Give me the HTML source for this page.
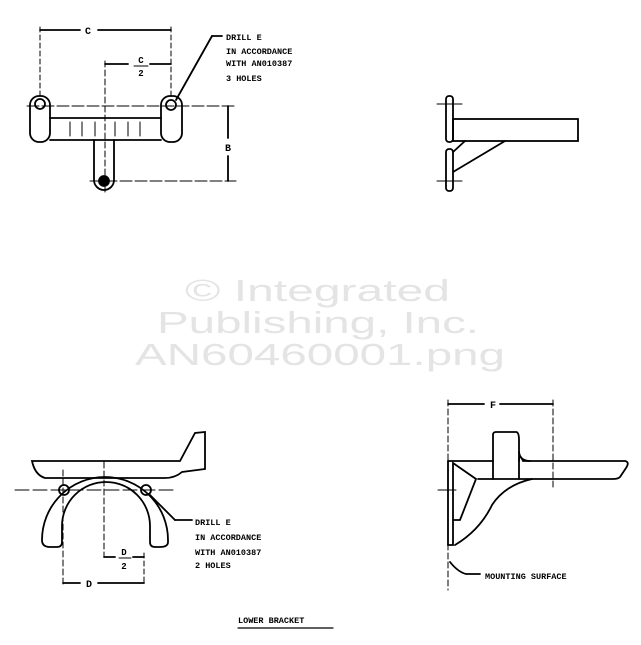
<!DOCTYPE html>
<html><head><style>
html,body{margin:0;padding:0;background:#fff;}
svg{display:block;}
text{font-family:"Liberation Mono",monospace;font-weight:bold;fill:#000;}
.wm{font-family:"Liberation Sans",sans-serif;font-weight:normal;fill:#e4e4e4;font-size:31px;stroke:none;}
</style></head><body>
<svg width="641" height="645" viewBox="0 0 641 645" xmlns="http://www.w3.org/2000/svg">
<!-- watermark -->
<text class="wm" x="185" y="301" textLength="265" lengthAdjust="spacingAndGlyphs">© Integrated</text>
<text class="wm" x="157" y="333" textLength="322" lengthAdjust="spacingAndGlyphs">Publishing, Inc.</text>
<text class="wm" x="135" y="365" textLength="370" lengthAdjust="spacingAndGlyphs">AN60460001.png</text>

<g fill="none" stroke="#000" stroke-width="1.8" stroke-linecap="round">
<!-- TOP LEFT -->
<line x1="40" y1="30" x2="80" y2="30"/><line x1="98" y1="30" x2="171" y2="30"/>
<line x1="40" y1="27" x2="40" y2="98" stroke-dasharray="5,3" stroke-width="1"/>
<line x1="171" y1="27" x2="171" y2="95" stroke-dasharray="5,3" stroke-width="1"/>
<line x1="105" y1="64" x2="128" y2="64"/><line x1="150" y1="64" x2="171" y2="64"/>
<line x1="105" y1="61" x2="105" y2="192" stroke-dasharray="6,3" stroke-width="1"/>
<line x1="134" y1="66" x2="148" y2="66" stroke-width="1"/>
<line x1="176" y1="100" x2="212" y2="36"/><line x1="212" y1="36" x2="222" y2="36"/>
<line x1="27" y1="106" x2="236" y2="106" stroke-dasharray="12,3" stroke-width="1"/>
<rect x="30" y="96" width="20" height="46" rx="9"/>
<rect x="161" y="96" width="21" height="46" rx="9"/>
<circle cx="40" cy="104" r="5"/><circle cx="171" cy="105" r="5"/>
<line x1="50" y1="118" x2="161" y2="118"/><line x1="50" y1="140" x2="161" y2="140"/>
<path d="M94 140 V180 A10 10 0 0 0 114 180 V140" />
<circle cx="104" cy="181" r="5" fill="#000"/>
<line x1="90" y1="181" x2="236" y2="181" stroke-dasharray="12,3" stroke-width="1"/>
<line x1="228" y1="106" x2="228" y2="138"/><line x1="228" y1="156" x2="228" y2="181"/>
<g stroke-width="1"><line x1="70" y1="122" x2="70" y2="136"/><line x1="82" y1="122" x2="82" y2="136"/><line x1="95" y1="122" x2="95" y2="136"/><line x1="115" y1="122" x2="115" y2="136"/><line x1="128" y1="122" x2="128" y2="136"/><line x1="140" y1="122" x2="140" y2="136"/></g>

<!-- TOP RIGHT -->
<rect x="446" y="96" width="7" height="46" rx="3"/>
<rect x="446" y="149" width="7" height="42" rx="3"/>
<rect x="453" y="119" width="125" height="22"/>
<line x1="453" y1="152" x2="465" y2="141"/><line x1="453" y1="172" x2="505" y2="141"/>
<line x1="437" y1="104" x2="462" y2="104" stroke-width="1"/>
<line x1="437" y1="181" x2="462" y2="181" stroke-width="1"/>

<!-- BOTTOM LEFT -->
<path d="M32 461 L180 461 L195 433 L205 432 L205 469 L182 472 Q175 478 165 478 L45 478 Q35 475 32 461 Z"/>
<path d="M42 540 A63 63 0 0 1 168 540 L168 542 Q168 547 160 547 L155 547 Q150 547 150 542 L150 526 A44 44 0 0 0 62 526 L62 542 Q62 547 57 547 L50 547 Q42 547 42 540 Z"/>
<circle cx="64" cy="490" r="5"/><circle cx="146" cy="490" r="5"/>
<line x1="15" y1="490" x2="175" y2="490" stroke-dasharray="14,4" stroke-width="1"/>
<line x1="150" y1="495" x2="175" y2="520"/><line x1="175" y1="520" x2="192" y2="520"/>
<line x1="104" y1="462" x2="104" y2="557" stroke-dasharray="6,3" stroke-width="1"/>
<line x1="104" y1="557" x2="115" y2="557"/><line x1="133" y1="557" x2="144" y2="557"/>
<line x1="119" y1="558" x2="131" y2="558" stroke-width="1"/>
<line x1="144" y1="553" x2="144" y2="585" stroke-dasharray="5,3" stroke-width="1"/>
<line x1="63" y1="470" x2="63" y2="585" stroke-dasharray="6,3" stroke-width="1"/>
<line x1="63" y1="583" x2="80" y2="583"/><line x1="98" y1="583" x2="144" y2="583"/>
<line x1="238" y1="628" x2="333" y2="628" stroke-width="1.2"/>

<!-- BOTTOM RIGHT -->
<line x1="448" y1="404" x2="484" y2="404"/><line x1="500" y1="404" x2="553" y2="404"/>
<line x1="448" y1="400" x2="448" y2="590" stroke-dasharray="6,3" stroke-width="1"/>
<line x1="553" y1="400" x2="553" y2="490" stroke-dasharray="6,3" stroke-width="1"/>
<path d="M448 461 L493 461 M519 461 Q519 452 523 461 L625 461 Q630 462 626 468 L620 477 Q618 479 613 479 L478 479"/>
<path d="M493 479 L493 435 Q493 432 496 432 L516 432 Q519 432 519 440 L519 479"/>
<path d="M519 452 Q520 461 530 461"/>
<path d="M448 461 L448 545 L453 545 L453 463 L476 479 L460 520 L453 520"/>
<path d="M455 545 Q480 530 492 505 Q505 485 532 479"/>
<line x1="438" y1="490" x2="456" y2="490" stroke-width="1"/>
<path d="M450 562 Q458 572 466 574 L480 574"/>
</g>

<!-- TEXT -->
<text x="88" y="34" font-size="10" text-anchor="middle">C</text>
<text x="141" y="63" font-size="9" text-anchor="middle">C</text>
<text x="141" y="76" font-size="9" text-anchor="middle">2</text>
<text x="228" y="151" font-size="10" text-anchor="middle">B</text>
<g font-size="8.5">
<text x="226" y="40">DRILL E</text>
<text x="226" y="54">IN ACCORDANCE</text>
<text x="226" y="66">WITH AN010387</text>
<text x="226" y="81">3 HOLES</text>
<text x="195" y="525">DRILL E</text>
<text x="195" y="540">IN ACCORDANCE</text>
<text x="195" y="555">WITH AN010387</text>
<text x="195" y="568">2 HOLES</text>
<text x="485" y="579">MOUNTING SURFACE</text>
<text x="238" y="623">LOWER BRACKET</text>
</g>
<text x="124" y="555" font-size="9" text-anchor="middle">D</text>
<text x="124" y="569" font-size="9" text-anchor="middle">2</text>
<text x="89" y="587" font-size="10" text-anchor="middle">D</text>
<text x="493" y="408" font-size="10" text-anchor="middle">F</text>
</svg>
</body></html>
